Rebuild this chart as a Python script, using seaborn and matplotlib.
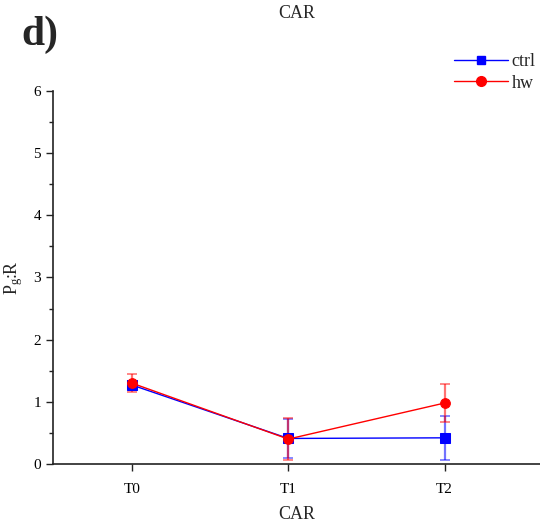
import matplotlib
matplotlib.use("Agg")
import matplotlib.pyplot as plt
import seaborn as sns
import pandas as pd
import numpy as np
from matplotlib.ticker import MultipleLocator
from matplotlib.lines import Line2D

# Pg:R ratio per time point
times = ["T0", "T1", "T2"]
ctrl_mean = [1.27, 0.41, 0.42]
ctrl_err = [0.07, 0.32, 0.35]
hw_mean = [1.30, 0.40, 0.98]
hw_err = [0.14, 0.34, 0.30]

groups = ["ctrl", "hw"]
colors = {"ctrl": "#0000ff", "hw": "#ff0000"}

df = pd.DataFrame({
    "time": times * 2,
    "group": ["ctrl"] * 3 + ["hw"] * 3,
    "value": ctrl_mean + hw_mean,
})

sns.set_style("ticks")
plt.rcParams["font.family"] = ["Liberation Serif", "DejaVu Serif"]
plt.rcParams["mathtext.fontset"] = "custom"
plt.rcParams["mathtext.rm"] = "Liberation Serif"
plt.rcParams["mathtext.it"] = "Liberation Serif"

fig = plt.figure(figsize=(5.4, 5.26), dpi=100)
ax = fig.add_axes([0.098, 0.118, 0.902, 0.709])

# error bars first so that the markers sit on top
for g, m, e in [("ctrl", ctrl_mean, ctrl_err), ("hw", hw_mean, hw_err)]:
    ax.errorbar(np.arange(len(times)), m, yerr=e, fmt="none",
                ecolor=colors[g], elinewidth=1.6, capsize=3.5, capthick=1.2,
                alpha=0.55, zorder=2)

sns.pointplot(data=df, x="time", y="value", hue="group", hue_order=groups,
              palette=colors, markers=["s", "o"], linestyles=["-", "-"],
              errorbar=None, dodge=False, ax=ax, legend=False,
              markersize=7, linewidth=1.0)

ax.set_ylim(0, 6)
ax.set_xlim(-0.505, 2.61)
ax.yaxis.set_major_locator(MultipleLocator(1))
ax.yaxis.set_minor_locator(MultipleLocator(0.5))
ax.tick_params(axis="both", which="major", length=5, width=1, labelsize=11,
               direction="out", colors="#222222", labelcolor="black")
ax.tick_params(axis="x", which="major", pad=9)
ax.tick_params(axis="y", which="minor", length=3, width=1, colors="#222222")
for s in ["top", "right"]:
    ax.spines[s].set_visible(False)
for s in ["left", "bottom"]:
    ax.spines[s].set_linewidth(1.2)
    ax.spines[s].set_color("#222222")

ax.set_xlabel("CAR", fontsize=13, labelpad=7)
ax.set_ylabel(r"P$_{\mathrm{g}}$:R", fontsize=13, labelpad=6)

handles = [
    Line2D([0], [0], color=colors["ctrl"], marker="s", markersize=6, lw=1),
    Line2D([0], [0], color=colors["hw"], marker="o", markersize=7, lw=1),
]
fig.legend(handles, groups, loc="upper left", bbox_to_anchor=(0.81, 0.93),
           frameon=False, fontsize=13, handlelength=3.0, handletextpad=0.2,
           labelspacing=0.25)

fig.text(0.55, 0.99, "CAR", ha="center", va="top", fontsize=13)
fig.text(0.04, 0.97, "d)", ha="left", va="top", fontsize=30, fontweight="bold")

fig.savefig("out.png", dpi=100)
